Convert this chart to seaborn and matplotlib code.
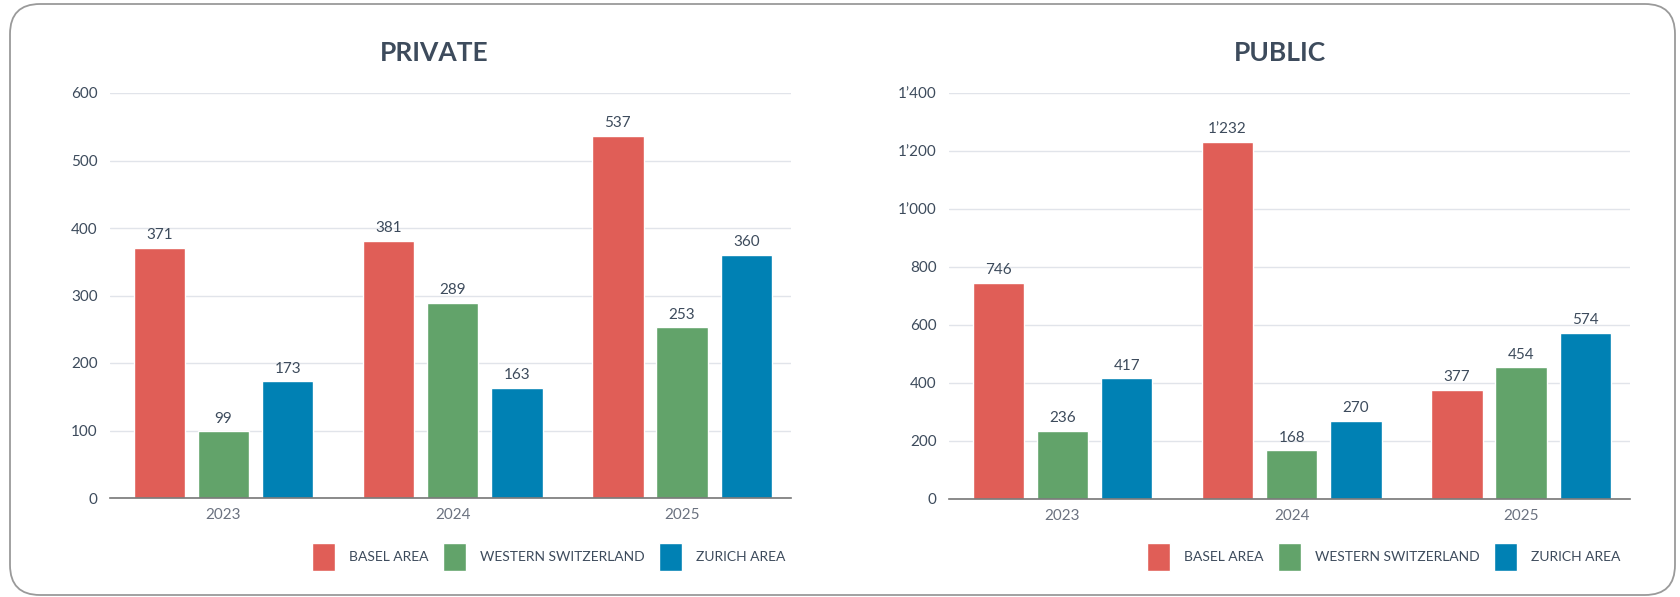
import pandas as pd
import seaborn as sns
import matplotlib.pyplot as plt
from matplotlib.patches import FancyBboxPatch, Patch
from matplotlib.ticker import FuncFormatter, MultipleLocator

years = ['2023', '2024', '2025']
regions = ['BASEL AREA', 'WESTERN SWITZERLAND', 'ZURICH AREA']
private_basel = [371, 381, 537]
private_western = [99, 289, 253]
private_zurich = [173, 163, 360]
public_basel = [746, 1232, 377]
public_western = [236, 168, 454]
public_zurich = [417, 270, 574]

colors = ['#E05E57', '#62A36A', '#0081B4']
text_color = '#3d4b5c'


def long_df(basel, western, zurich):
    rows = []
    for vals, reg in zip([basel, western, zurich], regions):
        for y, v in zip(years, vals):
            rows.append({'year': y, 'region': reg, 'value': v})
    return pd.DataFrame(rows)


def fmt(v):
    return f"{v:,.0f}".replace(",", "\u2019")


sns.set_style('white')
plt.rcParams['font.family'] = ['Lato', 'DejaVu Sans']

fig = plt.figure(figsize=(16.81, 5.97), dpi=100)

# rounded card border (pixel coords, dpi=100)
fig.patches.append(FancyBboxPatch((10, 2), 1665, 591,
                                  boxstyle='round,pad=0,rounding_size=30',
                                  transform=None, facecolor='none',
                                  edgecolor='#9a9a9a', linewidth=1.3, zorder=-1))

panels = [
    ('PRIVATE', long_df(private_basel, private_western, private_zurich),
     [110 / 1681, 1 - 498 / 597, 681 / 1681, 405 / 597], 600, 100, 434, 791),
    ('PUBLIC', long_df(public_basel, public_western, public_zurich),
     [949 / 1681, 1 - 499 / 597, 681 / 1681, 406 / 597], 1400, 200, 1280, 1626),
]

for title, df, pos, ymax, step, tx, lx in panels:
    ax = fig.add_axes(pos)
    sns.barplot(data=df, x='year', y='value', hue='region', palette=colors,
                width=0.84, gap=0.2, legend=False, ax=ax, saturation=1)
    ax.set_ylim(0, ymax)
    ax.set_xlim(-0.495, 2.475)
    ax.yaxis.set_major_locator(MultipleLocator(step))
    ax.yaxis.set_major_formatter(FuncFormatter(lambda v, p: fmt(v)))
    ax.grid(axis='y', color='#e1e4ea', linewidth=1)
    ax.set_axisbelow(True)
    for s in ['left', 'right', 'top']:
        ax.spines[s].set_visible(False)
    ax.spines['bottom'].set_color('#777777')
    ax.spines['bottom'].set_linewidth(1.2)
    ax.tick_params(axis='y', length=0, pad=9, labelsize=11, labelcolor=text_color)
    ax.tick_params(axis='x', length=0, pad=7, labelsize=11, labelcolor='#6b7280')
    ax.set_xlabel('')
    ax.set_ylabel('')
    for cont in ax.containers:
        ax.bar_label(cont, labels=[fmt(b.get_height()) for b in cont], padding=4,
                     fontsize=11, color=text_color)
    fig.text(tx / 1681, 1 - 53 / 597, title, ha='center', va='center',
             fontsize=19, fontweight='bold', color=text_color)
    handles = [Patch(facecolor=c, edgecolor='white') for c in colors]
    fig.legend(handles, regions, loc='center right', ncol=3, frameon=False,
               bbox_to_anchor=(lx / 1681, 1 - 557 / 597), fontsize=10,
               labelcolor=text_color, handlelength=1.7, handleheight=2.8,
               handletextpad=1.0, columnspacing=1.0, borderaxespad=0)

plt.savefig('out.png', dpi=100)
